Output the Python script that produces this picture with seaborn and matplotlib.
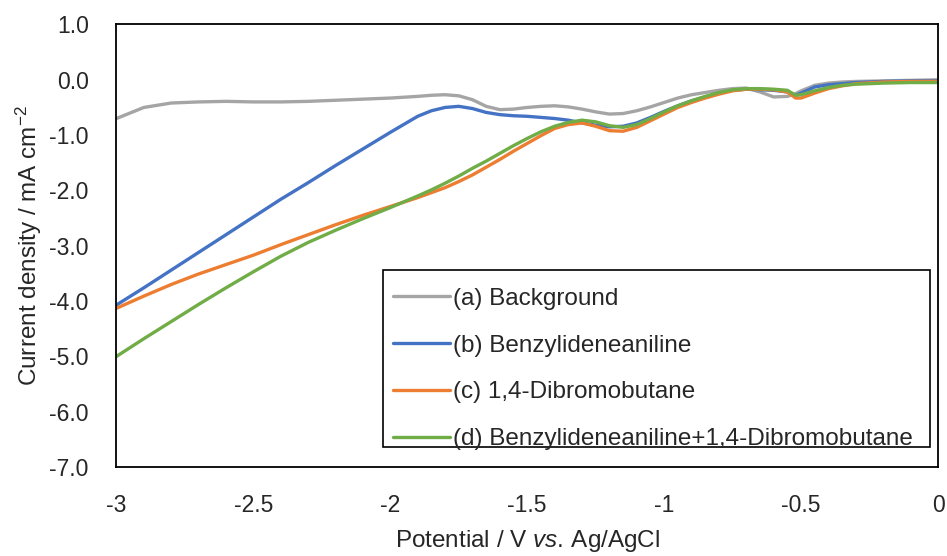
import numpy as np
import pandas as pd
import seaborn as sns
import matplotlib
matplotlib.use("Agg")
import matplotlib.pyplot as plt
from matplotlib.patches import Rectangle
from matplotlib.ticker import FixedLocator, FuncFormatter

potential = [-3.0, -2.9, -2.8, -2.7, -2.6, -2.5, -2.4, -2.3, -2.2, -2.1, -2.0, -1.9,
             -1.85, -1.8, -1.75, -1.7, -1.65, -1.6, -1.55, -1.5, -1.45, -1.4, -1.35,
             -1.3, -1.25, -1.2, -1.15, -1.1, -1.05, -1.0, -0.95, -0.9, -0.85, -0.8,
             -0.75, -0.7, -0.65, -0.6, -0.55, -0.52, -0.5, -0.45, -0.4, -0.35, -0.3,
             -0.2, -0.1, 0.0]

background = [-0.70, -0.50, -0.42, -0.40, -0.39, -0.40, -0.40, -0.39, -0.37, -0.35, -0.33, -0.30,
              -0.28, -0.27, -0.29, -0.36, -0.48, -0.54, -0.53, -0.50, -0.48, -0.47, -0.49,
              -0.53, -0.58, -0.62, -0.61, -0.56, -0.49, -0.41, -0.33, -0.27, -0.23, -0.19,
              -0.16, -0.15, -0.22, -0.31, -0.30, -0.25, -0.20, -0.10, -0.06, -0.04, -0.03,
              -0.02, -0.01, 0.00]

benzylideneaniline = [-4.07, -3.76, -3.44, -3.12, -2.80, -2.48, -2.16, -1.86, -1.55, -1.25, -0.95, -0.66,
                      -0.56, -0.50, -0.48, -0.52, -0.59, -0.63, -0.65, -0.66, -0.68, -0.70, -0.73,
                      -0.78, -0.82, -0.85, -0.84, -0.78, -0.68, -0.57, -0.47, -0.38, -0.31, -0.24,
                      -0.19, -0.17, -0.18, -0.19, -0.22, -0.28, -0.24, -0.13, -0.09, -0.07, -0.05,
                      -0.03, -0.02, -0.02]

dibromobutane = [-4.13, -3.91, -3.70, -3.51, -3.34, -3.17, -2.98, -2.80, -2.62, -2.45, -2.29, -2.13,
                 -2.04, -1.95, -1.84, -1.72, -1.58, -1.44, -1.29, -1.15, -1.01, -0.88, -0.81,
                 -0.78, -0.84, -0.92, -0.93, -0.86, -0.74, -0.62, -0.50, -0.41, -0.33, -0.26,
                 -0.20, -0.17, -0.17, -0.18, -0.22, -0.33, -0.33, -0.24, -0.16, -0.11, -0.07,
                 -0.04, -0.03, -0.03]

combined = [-5.00, -4.68, -4.37, -4.06, -3.76, -3.47, -3.19, -2.94, -2.72, -2.51, -2.31, -2.10,
            -1.99, -1.87, -1.74, -1.60, -1.47, -1.33, -1.19, -1.06, -0.94, -0.84, -0.77,
            -0.73, -0.76, -0.83, -0.86, -0.81, -0.70, -0.58, -0.47, -0.38, -0.30, -0.23,
            -0.18, -0.16, -0.16, -0.17, -0.19, -0.28, -0.27, -0.20, -0.14, -0.10, -0.08,
            -0.06, -0.05, -0.05]

labels = ["(a) Background", "(b) Benzylideneaniline", "(c) 1,4-Dibromobutane",
          "(d) Benzylideneaniline+1,4-Dibromobutane"]
colors = ["#A5A5A5", "#4472C4", "#ED7D31", "#70AD47"]
x_ticks = [-3, -2.5, -2, -1.5, -1, -0.5, 0]
y_ticks = [1.0, 0.0, -1.0, -2.0, -3.0, -4.0, -5.0, -6.0, -7.0]

sns.set_theme(style="white")
plt.rcParams["font.family"] = ["Liberation Sans", "DejaVu Sans"]
plt.rcParams["mathtext.fontset"] = "custom"
plt.rcParams["mathtext.rm"] = "Liberation Sans"
plt.rcParams["mathtext.it"] = "Liberation Sans:italic"
plt.rcParams["axes.unicode_minus"] = False

frames = []
for lab, vals in zip(labels, [background, benzylideneaniline, dibromobutane, combined]):
    frames.append(pd.DataFrame({"Potential": potential, "Current": vals, "Sample": lab}))
df = pd.concat(frames, ignore_index=True)

fig = plt.figure(figsize=(9.47, 5.56), dpi=100)
ax = fig.add_axes([0.123, 0.16, 0.8675, 0.796])

sns.lineplot(data=df, x="Potential", y="Current", hue="Sample", hue_order=labels,
             palette=colors, linewidth=2.4, ax=ax, sort=False, estimator=None)

ax.set_xlim(-3, 0)
ax.set_ylim(-7, 1)
ax.xaxis.set_major_locator(FixedLocator(x_ticks))
ax.yaxis.set_major_locator(FixedLocator(y_ticks))
ax.xaxis.set_major_formatter(FuncFormatter(lambda v, p: ("%g" % v)))
ax.yaxis.set_major_formatter(FuncFormatter(lambda v, p: ("%.1f" % v)))
ax.tick_params(axis="both", length=0, labelsize=16.5, colors="#262626")
ax.tick_params(axis="x", pad=19.5)
ax.tick_params(axis="y", pad=20)

for sp in ax.spines.values():
    sp.set_visible(True)
    sp.set_color("black")
    sp.set_linewidth(1.3)

ax.set_xlabel("Potential / V $\\mathit{vs.}\\,$Ag/AgCl", fontsize=17.5, color="#262626", labelpad=8)
ax.set_ylabel("Current density / mA cm$^{-2}$", fontsize=17.5, color="#262626", labelpad=4)

# legend box frame (Excel style, content sits low in the box)
ax.add_patch(Rectangle((0.3244, 0.0452), 0.6659, 0.400, transform=ax.transAxes,
                       facecolor="white", edgecolor="black", linewidth=1.2, zorder=4))

leg = ax.legend(loc="upper left", bbox_to_anchor=(0.3366, 0.405), fontsize=17.5,
                frameon=False, labelspacing=1.02, handlelength=2.35, handletextpad=0.12,
                borderpad=0, borderaxespad=0)
leg.set_zorder(5)
for t in leg.get_texts():
    t.set_color("#262626")

fig.savefig("out.png", dpi=100)
